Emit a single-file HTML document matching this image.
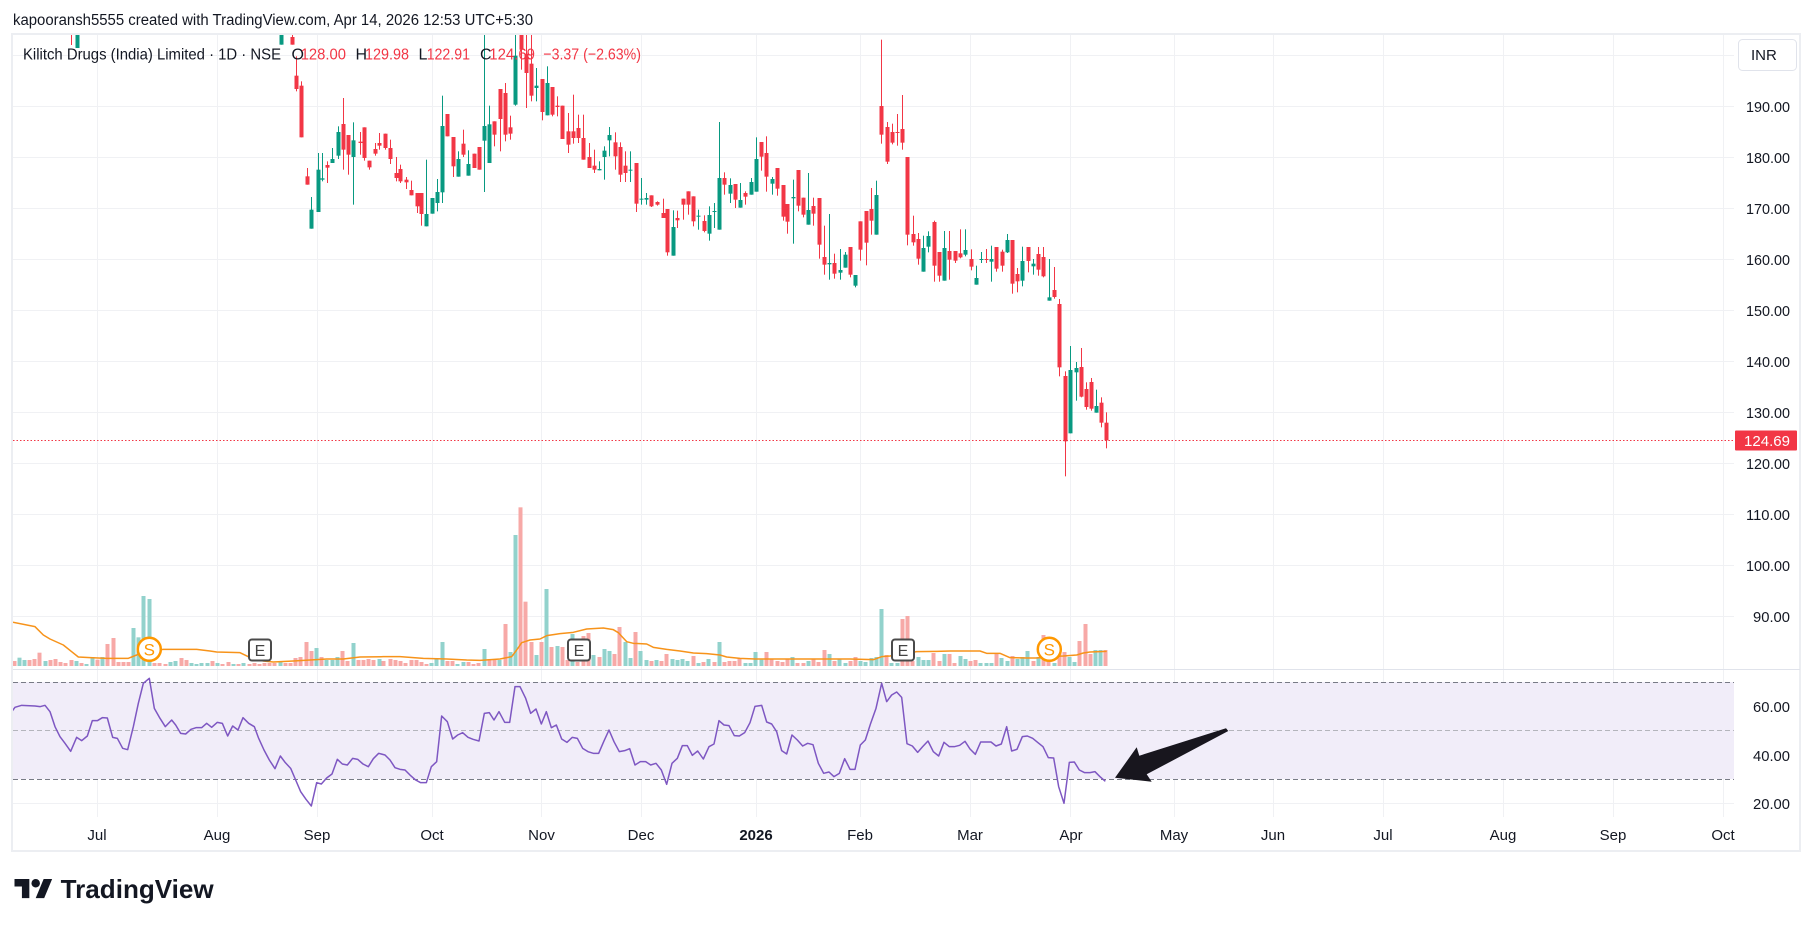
<!DOCTYPE html>
<html><head><meta charset="utf-8">
<style>
html,body{margin:0;padding:0;background:#fff;width:1814px;height:927px;overflow:hidden}
svg{display:block}
text{font-family:"Liberation Sans",Arial,sans-serif}
</style></head><body>
<svg id="s" width="1814" height="927" viewBox="0 0 1814 927" xmlns="http://www.w3.org/2000/svg">
<defs>
<clipPath id="mp"><rect x="13" y="35" width="1721" height="633"/></clipPath>
<clipPath id="rp"><rect x="13" y="670" width="1721" height="147"/></clipPath>
</defs>
<rect width="1814" height="927" fill="#fff"/>
<text x="13" y="25" font-size="15.5" fill="#131722" textLength="520" lengthAdjust="spacingAndGlyphs">kapooransh5555 created with TradingView.com, Apr 14, 2026 12:53 UTC+5:30</text>
<rect x="12" y="34" width="1788" height="817" fill="none" stroke="#eceef2" stroke-width="2"/>
<g id="grid" stroke="#f0f1f4" stroke-width="1"></g>
<rect x="13" y="682" width="1721" height="97" fill="#f1edf9"/>
<line x1="13" y1="669.5" x2="1800" y2="669.5" stroke="#e0e3eb" stroke-width="1"/>
<g stroke-width="1" fill="none">
<line x1="13" y1="682.5" x2="1734" y2="682.5" stroke="#787b86" stroke-dasharray="5 3"/>
<line x1="13" y1="730.5" x2="1734" y2="730.5" stroke="#b4b5bc" stroke-dasharray="5 3"/>
<line x1="13" y1="779.5" x2="1734" y2="779.5" stroke="#787b86" stroke-dasharray="5 3"/>
</g>
<g id="vol" clip-path="url(#mp)"></g>
<g id="ma" clip-path="url(#mp)"></g>
<g id="cdl" clip-path="url(#mp)"></g>
<line x1="13" y1="440.5" x2="1735" y2="440.5" stroke="#f23645" stroke-width="1" stroke-dasharray="1.5 2"/>
<g id="rsi" clip-path="url(#rp)"></g>

<!-- markers -->
<g>
<circle cx="149.3" cy="649.3" r="11.5" fill="#fff" stroke="#ff9800" stroke-width="2.5"/>
<text x="149.3" y="655.5" font-size="17" fill="#ff9800" text-anchor="middle">S</text>
<circle cx="1049.3" cy="649.3" r="11.5" fill="#fff" stroke="#ff9800" stroke-width="2.5"/>
<text x="1049.3" y="655.5" font-size="17" fill="#ff9800" text-anchor="middle">S</text>
<rect x="249" y="639.5" width="22" height="21" rx="3" fill="#fff" stroke="#4a4a4a" stroke-width="2"/>
<text x="260" y="656" font-size="16" fill="#444" text-anchor="middle">E</text>
<rect x="568" y="639.5" width="22" height="21" rx="3" fill="#fff" stroke="#4a4a4a" stroke-width="2"/>
<text x="579" y="656" font-size="16" fill="#444" text-anchor="middle">E</text>
<rect x="892" y="639.5" width="22" height="21" rx="3" fill="#fff" stroke="#4a4a4a" stroke-width="2"/>
<text x="903" y="656" font-size="16" fill="#444" text-anchor="middle">E</text>
</g>

<!-- legend -->
<g font-size="16">
<text x="23" y="59.5" fill="#131722" textLength="258" lengthAdjust="spacingAndGlyphs">Kilitch Drugs (India) Limited · 1D · NSE</text>
<text x="291.5" y="59.5" fill="#131722">O</text>
<text x="300.7" y="59.5" fill="#f23645" textLength="45.3" lengthAdjust="spacingAndGlyphs">128.00</text>
<text x="355.5" y="59.5" fill="#131722">H</text>
<text x="365" y="59.5" fill="#f23645" textLength="44" lengthAdjust="spacingAndGlyphs">129.98</text>
<text x="418.5" y="59.5" fill="#131722">L</text>
<text x="426.7" y="59.5" fill="#f23645" textLength="43.3" lengthAdjust="spacingAndGlyphs">122.91</text>
<text x="480" y="59.5" fill="#131722">C</text>
<text x="489.3" y="59.5" fill="#f23645" textLength="45.7" lengthAdjust="spacingAndGlyphs">124.69</text>
<text x="543.3" y="59.5" fill="#f23645" textLength="97.7" lengthAdjust="spacingAndGlyphs">−3.37 (−2.63%)</text>
</g>

<!-- arrow -->
<polygon points="1115,777.7 1136.7,747.3 1139.3,755.7 1226,728.3 1228.3,731 1146.7,774.3 1151.7,781.7" fill="#18161e"/>

<!-- price axis -->
<rect x="1738.5" y="39.5" width="58" height="31" rx="4" fill="#fff" stroke="#e0e3eb"/>
<text x="1751" y="60" font-size="15" fill="#131722">INR</text>
<g id="pax" font-size="15" fill="#131722"></g>
<rect x="1735" y="430.5" width="62" height="20" rx="1" fill="#f23645"/>
<text x="1744" y="446" font-size="15" fill="#fff" textLength="46" lengthAdjust="spacingAndGlyphs">124.69</text>

<!-- time axis -->
<g id="tax" font-size="15" fill="#131722" text-anchor="middle"></g>

<!-- logo -->
<g transform="translate(14.5,874.8) scale(1.06)" fill="#131722">
<path d="M14 22H7V11H0V4h14v18zM28 22h-8l7.5-18h8L28 22z"/><circle cx="20" cy="8" r="4"/>
</g>
<text x="60.7" y="898" font-size="26" font-weight="bold" fill="#131722" textLength="153" lengthAdjust="spacingAndGlyphs">TradingView</text>
</svg>
<script>
(function(){
function $(id){return document.getElementById(id);}
// grid
var g='';
var vx=[97.5,217.5,317.5,432.5,541.5,641.5,756.5,860.5,970.5,1070.5,1174.5,1273.5,1383.5,1503.5,1613.5,1723.5];
vx.forEach(function(x){g+='<line x1="'+x+'" y1="35" x2="'+x+'" y2="817"/>';});
var hy=[55.5,106.5,157.5,208.5,259.5,310.5,361.5,412.5,463.5,514.5,565.5,616.5,706.5,755.5,803.5];
hy.forEach(function(y){g+='<line x1="13" y1="'+y+'" x2="1734" y2="'+y+'"/>';});
$('grid').innerHTML=g;
// price axis labels
var p='';var pl=[[190,106.7],[180,157.7],[170,208.7],[160,259.7],[150,310.7],[140,361.7],[130,412.7],[120,463.7],[110,514.7],[100,565.7],[90,616.7]];
pl.forEach(function(a){var s=a[0].toFixed(2);var w=s.length>5?44:37;var x=1790-w;
 p+='<text x="'+x+'" y="'+(a[1]+5.5)+'" textLength="'+w+'" lengthAdjust="spacingAndGlyphs">'+s+'</text>';});
[[60,706.5],[40,755.5],[20,803.5]].forEach(function(a){p+='<text x="1753" y="'+(a[1]+5.5)+'" textLength="37" lengthAdjust="spacingAndGlyphs">'+a[0].toFixed(2)+'</text>';});
$('pax').innerHTML=p;
// time axis
var t='';var tl=[['Jul',97],['Aug',217],['Sep',317],['Oct',432],['Nov',541.5],['Dec',641],['2026',756],['Feb',860],['Mar',970],['Apr',1071],['May',1174],['Jun',1273],['Jul',1383],['Aug',1503],['Sep',1613],['Oct',1723]];
tl.forEach(function(a){t+='<text x="'+a[1]+'" y="840"'+(a[0]==='2026'?' font-weight="bold"':'')+'>'+a[0]+'</text>';});
$('tax').innerHTML=t;

// candles
var Z5=[[3,0,35,0,35,1],[35,12,35,5,35,0],[48,128,168,70,175,0],[64,158,313,145,313,0],[80,430,455,405,455,0],[94,530,587,492,587,1],[113,410,537,360,537,1],[127,436,440,360,445,1],[142,396,404,385,450,0],[157,378,390,345,390,1],[175,297,368,280,378,1],[189,273,350,195,410,0],[204,306,365,306,425,0],[219,322,372,268,515,1],[239,326,330,297,365,0],[253,283,375,283,383,0],[268,383,403,383,410,0],[284,348,362,330,368,0],[298,330,338,300,350,0],[316,302,345,302,350,0],[331,345,378,320,393,0],[347,420,435,372,445,0],[361,408,445,395,450,0],[378,440,448,432,468,0],[394,471,487,443,487,0],[410,480,520,480,540,0],[424,480,543,480,578,0],[439,543,580,380,580,1],[457,495,542,495,542,1],[471,477,510,438,535,1],[487,279,478,188,510,1],[502,243,310,243,310,0],[520,312,400,312,432,0],[535,378,431,355,431,1],[550,332,365,290,372,0],[565,393,428,352,428,1],[583,362,405,362,405,0],[598,342,410,342,410,0],[613,279,323,5,477,1],[628,274,390,218,390,1],[643,265,305,265,340,0],[660,168,258,168,355,0],[676,180,305,150,325,0],[690,283,302,248,320,0],[706,68,215,5,218,1],[722,0,50,0,110,0],[738,62,120,5,225,0],[752,92,188,5,205,0],[768,158,165,105,205,1],[785,138,237,138,262,0],[802,150,247,100,247,1],[817,162,245,162,250,0],[832,218,222,190,250,0],[847,218,318,218,318,0],[864,295,335,240,360,0],[880,295,315,185,332,0],[895,285,315,245,330,0],[910,315,380,245,380,0],[927,372,405,330,405,0],[942,398,410,350,420,0],[958,408,412,385,412,1],[973,353,372,340,440,1],[988,306,322,282,370,1],[1005,328,370,298,410,0],[1020,342,425,328,447,0],[1035,398,420,355,447,0],[1050,410,412,355,447,1],[1068,390,512,390,537,0],[1084,497,500,435,515,1],[1098,495,500,480,515,1],[1113,487,520,487,522,0],[1131,507,515,505,518,0],[1148,540,555,497,555,0],[1162,528,658,528,668,0],[1178,582,668,532,668,1],[1192,555,562,533,585,0],[1210,497,515,497,560,0],[1225,475,515,475,545,0],[1240,490,565,490,580,0],[1255,548,551,530,590,1]];
var Z6=[[43,564,594,547,598,0],[58,546,602,520,623,1],[73,534,537,510,585,1],[88,435,590,267,590,1],[103,435,455,418,485,0],[120,456,482,436,510,1],[136,453,500,453,525,0],[151,501,524,450,524,1],[166,480,491,475,515,0],[184,447,485,435,485,1],[199,378,476,313,476,1],[214,327,371,327,413,0],[229,360,431,310,476,0],[247,438,452,432,485,1],[262,405,467,405,488,0],[278,456,551,456,563,0],[292,513,566,513,602,0],[308,492,496,440,632,1],[325,411,518,411,535,0],[340,494,545,494,553,0],[355,531,575,420,575,1],[370,519,542,494,578,0],[388,495,635,495,677,0],[403,672,695,578,725,0],[418,690,694,543,740,1],[433,690,722,662,737,0],[451,711,719,648,740,1],[466,665,704,657,704,1],[481,642,725,642,733,0],[496,726,758,726,763,1],[511,565,650,565,683,0],[528,534,629,534,697,0],[543,528,563,465,605,0],[559,486,605,443,605,1],[574,219,305,20,332,0],[592,282,386,267,393,0],[607,297,329,272,334,0],[622,297,300,243,338,0],[637,288,329,186,350,0],[652,372,605,372,637,0],[669,603,628,548,638,0],[684,618,677,600,695,0],[700,645,716,608,716,1],[715,609,641,595,658,1],[733,567,698,563,746,0],[748,657,728,657,746,0],[763,645,743,594,743,1],[778,654,680,594,740,0],[796,654,683,654,690,0],[811,661,673,589,676,0],[826,651,665,589,670,1],[842,678,701,649,712,0],[857,735,755,698,755,1],[873,678,681,657,690,1],[889,678,681,648,690,0],[904,678,686,638,746,1],[919,642,707,642,716,0],[936,656,698,650,716,0],[952,621,658,603,660,1],[967,621,752,621,782,0],[982,723,745,705,778,0],[997,684,743,641,760,1],[1015,642,684,642,718,0],[1030,692,700,678,725,1],[1045,663,710,642,728,0],[1060,672,730,642,733,0],[1078,793,803,678,803,1],[1093,771,792,702,797,0],[1108,813,1003,798,1030,0],[1124,1029,1225,1015,1330,0],[1141,1011,1201,939,1201,1],[1157,1005,1018,987,1103,1],[1172,1002,1091,945,1093,0],[1187,1068,1122,1048,1130,0],[1202,1047,1127,1035,1133,0],[1219,1119,1139,1070,1139,1],[1234,1109,1169,1093,1183,0],[1249,1169,1222,1138,1246,0]];
var c='';
function cand(x,bt,bb,wt,wb,col){
  var cx=Math.round(x);var cl=col?'#089981':'#f23645';
  c+='<rect x="'+cx+'" y="'+wt.toFixed(2)+'" width="1" height="'+Math.max(1,wb-wt).toFixed(2)+'" fill="'+cl+'"/>';
  c+='<rect x="'+(cx-1.5)+'" y="'+bt.toFixed(2)+'" width="4" height="'+Math.max(1,bb-bt).toFixed(2)+'" fill="'+cl+'"/>';
}
function addZ(arr,x0){arr.forEach(function(a){cand(x0+a[0]/3,33+a[1]/3,33+a[2]/3,33+a[3]/3,33+a[4]/3,a[5]);});}
cand(71,30,31,30,45,0);
cand(77,30,48,30,48,1);
addZ(Z5,280);addZ(Z6,690);
$('cdl').innerHTML=c;

// volume
var V7=[[12,213,0],[27,203,1],[42,210,1],[57,210,0],[72,207,0],[88,188,0],[104,213,1],[119,210,0],[134,207,0],[150,216,0],[165,219,0],[182,210,0],[197,213,1],[212,219,0],[228,222,1],[245,201,1],[260,209,0],[276,201,1],[292,162,0],[308,144,0],[323,216,0],[338,216,0],[353,216,0],[369,114,1],[385,142,1],[400,18,1],[416,27,1],[432,219,0],[448,219,0],[464,222,0],[480,216,1],[496,213,1],[512,204,0],[528,210,0],[543,219,1],[559,222,1],[574,219,1],[590,219,1],[605,213,0],[621,219,1],[637,222,0],[653,216,0],[668,222,1],[684,222,0],[700,219,1],[716,222,0],[731,219,0],[746,222,0],[762,219,0],[778,219,0],[793,219,0],[809,213,1],[824,219,0],[840,219,0],[856,204,0],[871,201,0],[887,156,0],[903,183,0],[918,174,1],[934,201,0],[949,210,1],[965,210,1],[980,201,1],[996,183,0],[1012,213,0],[1028,159,1],[1043,210,0],[1058,210,0],[1074,207,0],[1090,210,0],[1106,207,1],[1120,213,0]];
var V8=[[30,207,0],[45,210,0],[60,213,0],[76,219,0],[92,210,0],[107,210,0],[122,216,0],[138,222,0],[153,219,1],[169,207,1],[185,156,1],[200,213,0],[216,213,0],[232,222,1],[248,216,1],[263,216,0],[279,222,0],[295,219,0],[311,177,1],[327,207,0],[342,210,0],[357,210,1],[374,102,0],[389,186,1],[404,-165,1],[420,-248,0],[436,35,0],[452,156,0],[467,195,1],[483,156,0],[498,-3,1],[514,171,0],[530,168,1],[545,171,0],[561,210,0],[577,132,1],[592,216,0],[609,138,0],[624,129,0],[640,195,1],[656,201,0],[671,177,1],[686,183,1],[702,192,0],[718,111,0],[734,156,1],[749,204,1],[765,126,0],[781,183,1],[797,210,1],[812,213,0],[828,210,1],[844,213,0],[859,192,0],[875,207,1],[890,210,1],[906,207,1],[922,213,1],[938,198,0],[953,219,1],[969,216,0],[985,207,1],[1001,216,0],[1016,156,1],[1031,216,0],[1047,213,0],[1063,213,0],[1078,204,0],[1094,219,1],[1110,219,1],[1124,186,1]];
var V9=[[33,209,1],[48,186,0],[63,206,0],[80,213,0],[95,216,0],[110,207,0],[126,201,1],[142,219,0],[158,219,0],[173,213,1],[189,207,0],[205,216,0],[221,180,0],[237,192,1],[252,213,0],[268,207,1],[284,219,1],[300,213,0],[315,201,0],[330,213,1],[346,216,1],[362,204,1],[378,201,1],[392,57,1],[408,195,0],[424,219,1],[440,219,1],[456,87,0],[471,78,0],[487,213,0],[503,201,1],[519,210,1],[535,210,1],[550,189,0],[566,213,0],[582,192,1],[597,192,0],[613,219,0],[629,198,1],[645,207,1],[660,213,0],[676,210,0],[691,219,1],[707,219,1],[722,219,1],[738,189,0],[754,204,1],[770,213,1],[785,198,0],[801,207,1],[816,201,1],[832,183,1],[848,213,0],[864,201,1],[879,135,0],[895,204,0],[911,219,1],[927,186,0],[942,186,0],[957,201,1],[973,216,1],[988,153,0],[1004,102,0],[1019,192,0],[1035,180,1],[1050,180,1],[1066,180,0]];
var v='';
function addV(arr,x0){arr.forEach(function(a){var x=Math.round(x0+a[0]/3);var y=590+a[1]/3;
 v+='<rect x="'+(x-1.5)+'" y="'+y.toFixed(2)+'" width="4" height="'+(666-y).toFixed(2)+'" fill="'+(a[2]?'#92d2cc':'#f7a9a7')+'"/>';});}
addV(V7,10);addV(V8,380);addV(V9,750);
$('vol').innerHTML=v;

// MA
var M7=[[0,95],[75,110],[100,135],[120,147],[160,165],[185,185],[205,201],[240,203],[290,205],[355,205],[380,195],[400,185],[460,178],[560,178],[600,183],[620,186],[690,188],[715,200],[760,213],[790,216],[850,213],[900,210],[950,207],[1000,207],[1050,201],[1120,200]];
var M8=[[60,200],[130,205],[200,207],[260,210],[300,211],[360,207],[380,203],[395,200],[410,180],[425,158],[450,150],[480,147],[500,137],[540,131],[580,127],[620,117],[670,114],[700,119],[715,128],[740,155],[760,160],[800,162],[820,172],[860,178],[900,183],[940,189],[980,191],[1020,195],[1040,201],[1080,205],[1125,207]];
var M9=[[100,207],[200,207],[300,207],[370,209],[395,200],[420,198],[500,185],[560,184],[600,183],[690,183],[710,190],[750,190],[780,203],[830,204],[860,204],[900,200],[940,198],[980,195],[1000,189],[1020,186],[1070,184]];
function pts(arrs,y0){var out=[];arrs.forEach(function(o){o.a.forEach(function(q){out.push((o.x0+q[0]/3).toFixed(2)+','+(y0+q[1]/3).toFixed(2));});});return out.join(' ');}
$('ma').innerHTML='<polyline points="13,621.7 '+pts([{a:M7,x0:10},{a:M8,x0:380},{a:M9,x0:750}],590)+'" fill="none" stroke="#f7931a" stroke-width="1.5" stroke-linejoin="round"/>';

// RSI
var R7=[[0,372],[15,352],[35,346],[75,348],[90,350],[105,346],[120,365],[135,410],[150,440],[165,460],[182,484],[200,442],[215,452],[232,438],[247,392],[262,392],[277,383],[292,384],[308,442],[322,445],[338,475],[353,479],[370,410],[385,340],[400,280],[418,265],[433,355],[450,385],[466,410],[485,390],[497,405],[512,430],[527,432],[543,418],[558,413],[575,413],[590,400],[605,412],[622,397],[637,400],[653,438],[668,408],[684,420],[699,383],[716,400],[733,410],[746,445],[762,480],[778,510],[795,536],[811,498],[826,518],[842,535],[857,570],[872,605],[888,628],[904,648],[920,578],[934,582],[950,564],[966,552],[982,508],[997,522],[1012,525],[1028,505],[1043,508],[1059,522],[1075,530],[1090,506],[1106,490]];
var R8=[[15,495],[30,510],[45,533],[60,538],[75,540],[90,555],[107,570],[122,578],[139,578],[154,530],[170,515],[185,378],[202,395],[218,447],[233,435],[248,428],[264,442],[279,448],[297,453],[313,370],[328,368],[342,390],[357,365],[374,397],[389,397],[405,290],[420,290],[437,325],[452,370],[468,357],[484,402],[499,365],[514,413],[529,405],[545,447],[561,457],[577,442],[592,445],[608,475],[624,485],[640,490],[656,490],[671,455],[687,420],[702,455],[718,485],[734,482],[749,476],[765,525],[781,515],[797,515],[812,525],[828,520],[844,540],[860,583],[876,520],[892,505],[907,467],[922,467],[937,496],[953,483],[970,507],[987,470],[1002,462],[1017,392],[1032,405],[1047,407],[1063,437],[1078,438],[1094,428],[1110,398]];
var R9=[[15,349],[35,346],[50,396],[65,402],[80,425],[95,482],[110,492],[126,435],[142,450],[158,468],[173,460],[189,464],[205,520],[221,550],[237,546],[252,560],[268,550],[284,506],[300,538],[315,538],[331,465],[346,450],[362,400],[378,355],[395,280],[410,335],[425,315],[440,306],[455,322],[471,461],[487,468],[503,487],[518,470],[534,453],[550,485],[566,498],[582,457],[598,470],[613,470],[629,466],[645,454],[660,477],[676,493],[692,456],[707,456],[723,456],[738,468],[754,462],[770,410],[785,483],[801,478],[817,440],[832,438],[848,445],[864,458],[879,470],[895,503],[911,504],[926,590],[942,640],[958,517],[973,516],[988,540],[1004,548],[1020,548],[1035,545],[1050,560],[1066,574]];
$('rsi').innerHTML='<polyline points="13,714 '+pts([{a:R7,x0:10},{a:R8,x0:380},{a:R9,x0:750}],590)+'" fill="none" stroke="#7e57c2" stroke-width="1.5" stroke-linejoin="round"/>';
})();
</script>
</body></html>
